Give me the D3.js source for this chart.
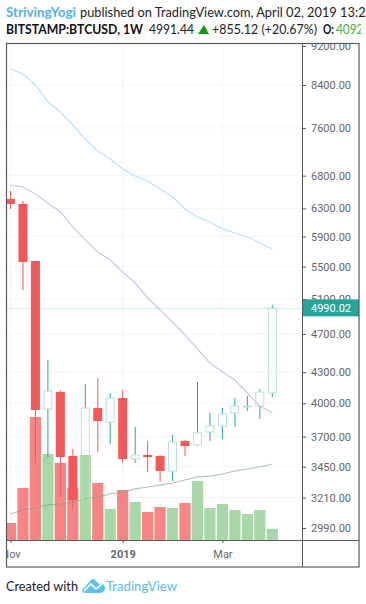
<!DOCTYPE html>
<html>
<head>
<meta charset="utf-8">
<script src="https://cdnjs.cloudflare.com/ajax/libs/d3/7.8.5/d3.min.js"></script>
<style>
  body { margin: 0; background: #fff; }
  svg { display: block; }
</style>
</head>
<body>
<div id="chart"></div>
<script>
// weekly candles, first one is the week of 5 Nov 2018
var firstWeek = "2018-11-05";
var opens  = [6440,6365,5573,3946,4106,3537,3192,3955,3828,4049,3512,3545,3537,3415,3662,3629,3740,3793,3910,3965,3974,4096];
var highs  = [6561,6410,5573,4424,4125,3595,4183,4242,4096,4125,3784,3662,3545,3714,3671,4203,3910,3955,4049,4068,4135,5030];
var lows   = [6292,5208,3479,3528,3214,3126,3184,3570,3637,3479,3479,3407,3329,3336,3537,3620,3662,3680,3784,3928,3855,4058];
var closes = [6365,5560,3937,4115,3528,3192,3955,3837,4049,3512,3545,3528,3415,3654,3620,3732,3793,3900,3974,3974,4106,4990];
var volumes = [17,52,123,86,77,52,85,57,31,50,38,28,33,32,37,59,32,36,30,26,30,11];

var maBlue   = [8720,8619,8401,8074,7888,7653,7407,7203,7070,6907,6795,6716,6592,6470,6292,6175,6104,6005,5949,5894,5812,5731];
var maPurple = [6653,6622,6515,6380,6248,6033,5853,5691,5586,5432,5294,5112,4971,4834,4690,4539,4393,4302,4222,4096,3974,3910];
var maGreen  = [3089,3118,3133,3155,3162,3177,3199,3214,3237,3252,3275,3290,3305,3321,3344,3368,3375,3391,3415,3431,3447,3471];

var priceTicks = [2990,3210,3450,3700,4000,4300,4700,5100,5500,5900,6300,6800,7600,8400,9200];
var timeTicks = ["2018-11-05","2019-01-07","2019-03-04"];
var timeLabels = ["Nov","2019","Mar"];
var lastPrice = 4990.02;

var upColor = "#26a69a", upBorder = "#b7e0dc", downColor = "#f25858";
var volUp = "#a8d8a8", volDown = "#f78585";

var parse = d3.utcParse("%Y-%m-%d");
var weeks = opens.map(function(d, i) { return d3.utcWeek.offset(parse(firstWeek), i); });

var svg = d3.select("#chart").append("svg").attr("width", 366).attr("height", 604);
svg.append("rect").attr("width", 366).attr("height", 604).attr("fill", "#fff");

var x = d3.scaleUtc().domain([weeks[0], weeks[weeks.length - 1]]).range([10.5, 272.3]);
var y = d3.scaleLog().domain([2990, 9200]).range([528, 46]);
var vol = d3.scaleLinear().domain([0, 123]).range([540, 417]);

var defs = svg.append("defs");
defs.append("clipPath").attr("id", "pane").append("rect").attr("x", 7).attr("y", 44).attr("width", 295).attr("height", 496);
defs.append("clipPath").attr("id", "priceAxis").append("rect").attr("x", 302).attr("y", 44).attr("width", 57).attr("height", 496);
defs.append("clipPath").attr("id", "timeAxis").append("rect").attr("x", 7).attr("y", 540).attr("width", 295).attr("height", 27);
defs.append("clipPath").attr("id", "page").append("rect").attr("x", 0).attr("y", 0).attr("width", 361).attr("height", 40);

var pane = svg.append("g").attr("clip-path", "url(#pane)");

// grid
pane.selectAll(".gy").data(priceTicks).enter().append("line")
  .attr("x1", 7).attr("x2", 302)
  .attr("y1", function(d) { return y(d); }).attr("y2", function(d) { return y(d); })
  .attr("stroke", "#f3f5f6");
pane.selectAll(".gx").data(timeTicks).enter().append("line")
  .attr("y1", 44).attr("y2", 540)
  .attr("x1", function(d) { return x(parse(d)); }).attr("x2", function(d) { return x(parse(d)); })
  .attr("stroke", "#f3f5f6");

// volume
pane.selectAll(".vol").data(volumes).enter().append("rect")
  .attr("x", function(d, i) { return x(weeks[i]) - 5.6; })
  .attr("width", 11.2)
  .attr("y", function(d) { return vol(d); })
  .attr("height", function(d) { return vol(0) - vol(d); })
  .attr("fill", function(d, i) { return closes[i] >= opens[i] ? volUp : volDown; });

// moving averages
var maLine = d3.line()
  .x(function(d, i) { return x(weeks[i]); })
  .y(function(d) { return y(d); });
pane.append("path").datum(maBlue).attr("fill", "none").attr("stroke", "#bbdefb").attr("stroke-width", 1.2).attr("d", maLine);
pane.append("path").datum(maPurple).attr("fill", "none").attr("stroke", "#cfc3ea").attr("stroke-width", 1.2).attr("d", maLine);
pane.append("path").datum(maGreen).attr("fill", "none").attr("stroke", "#7f9f86").attr("stroke-opacity", 0.6).attr("stroke-width", 1.2).attr("d", maLine);

// last price line
pane.append("line").attr("x1", 7).attr("x2", 302)
  .attr("y1", y(lastPrice)).attr("y2", y(lastPrice))
  .attr("stroke", upColor).attr("stroke-opacity", 0.22);

// candles
var candle = pane.selectAll(".candle").data(opens).enter().append("g");
candle.append("line")
  .attr("x1", function(d, i) { return x(weeks[i]); }).attr("x2", function(d, i) { return x(weeks[i]); })
  .attr("y1", function(d, i) { return y(highs[i]); })
  .attr("y2", function(d, i) { return y(Math.max(opens[i], closes[i])); })
  .attr("stroke", function(d, i) { return closes[i] >= opens[i] ? upColor : downColor; })
  .attr("stroke-width", 1);
candle.append("line")
  .attr("x1", function(d, i) { return x(weeks[i]); }).attr("x2", function(d, i) { return x(weeks[i]); })
  .attr("y1", function(d, i) { return y(Math.min(opens[i], closes[i])); })
  .attr("y2", function(d, i) { return y(lows[i]); })
  .attr("stroke", function(d, i) { return closes[i] >= opens[i] ? upColor : downColor; })
  .attr("stroke-width", 1);
candle.append("rect")
  .attr("x", function(d, i) { return x(weeks[i]) - (closes[i] >= opens[i] ? 4 : 4.5); })
  .attr("width", function(d, i) { return closes[i] >= opens[i] ? 8 : 9; })
  .attr("y", function(d, i) { return y(Math.max(opens[i], closes[i])); })
  .attr("height", function(d, i) { return Math.abs(y(opens[i]) - y(closes[i])); })
  .attr("fill", function(d, i) { return closes[i] >= opens[i] ? "none" : downColor; })
  .attr("stroke", function(d, i) { return closes[i] >= opens[i] ? upBorder : "none"; });

// price axis
var priceAxis = svg.append("g").attr("clip-path", "url(#priceAxis)").append("g")
  .attr("transform", "translate(302,0)")
  .call(d3.axisRight(y).tickValues(priceTicks).tickSize(4).tickPadding(5)
    .tickFormat(function(d) { return d.toFixed(2); }));
priceAxis.select(".domain").remove();
priceAxis.selectAll("line").attr("stroke", "#555");
priceAxis.selectAll("text").attr("fill", "#666").style("font", "11px Roboto");

// last price label
svg.append("rect").attr("x", 302).attr("y", y(lastPrice) - 9).attr("width", 57).attr("height", 17).attr("fill", upColor);
svg.append("text").attr("x", 311).attr("y", y(lastPrice) + 4)
  .attr("fill", "#fff").style("font", "11px Roboto").text(lastPrice.toFixed(2));

// time axis
var timeAxis = svg.append("g").attr("clip-path", "url(#timeAxis)").append("g")
  .attr("transform", "translate(0,540)")
  .call(d3.axisBottom(x).tickValues(timeTicks.map(parse)).tickSize(3).tickPadding(7)
    .tickFormat(function(d, i) { return timeLabels[i]; }));
timeAxis.select(".domain").remove();
timeAxis.selectAll("line").attr("stroke", "#555");
timeAxis.selectAll("text").attr("fill", "#666").style("font", "11px Roboto")
  .style("font-weight", function(d, i) { return i == 1 ? "bold" : "normal"; });

// frame
var frameColor = "#5a5a5a";
svg.append("rect").attr("x", 6.5).attr("y", 43.5).attr("width", 352.5).attr("height", 523.5)
  .attr("fill", "none").attr("stroke", frameColor).attr("stroke-width", 1.2);
svg.append("line").attr("x1", 302.5).attr("x2", 302.5).attr("y1", 44).attr("y2", 567).attr("stroke", frameColor);
svg.append("line").attr("x1", 7).attr("x2", 359).attr("y1", 540.5).attr("y2", 540.5).attr("stroke", frameColor);

// header, Lato runs wider than the original font so each run gets a fixed length
function label(parent, str, px, py, len, color, bold) {
  return parent.append("text").attr("x", px).attr("y", py)
    .attr("textLength", len).attr("lengthAdjust", "spacingAndGlyphs")
    .style("font", (bold ? "bold 12.8px" : "13px") + " Lato")
    .attr("fill", color).text(str);
}
var head = svg.append("g").attr("clip-path", "url(#page)");
label(head, "StrivingYogi", 6, 17, 70, "#4fb4e6", true);
label(svg, "published on TradingView.com, April 02, 2019 13:21", 80, 17, 293, "#222", false);
label(head, "BITSTAMP:BTCUSD, 1W", 6, 34, 137, "#111", true);
label(head, "4991.44", 149, 34, 45, "#222", false);
head.append("path").attr("d", "M198,34L204,25L209,34Z").attr("fill", "#0a9d0a");
label(head, "+855.12 (+20.67%)", 212, 34, 105, "#222", false);
label(head, "O:", 323, 34, 11, "#111", true);
label(head, "4092.10", 336, 34, 44, "#3fae3f", false);

// footer
label(svg, "Created with", 6, 591, 72, "#222", false);
svg.append("path")
  .attr("d", "M82,590L91,580Q93,578 95,580L99,584Q102,582 104,585Q106,588 104,591Q103,593 100,593L85,593Q82,593 82,590Z")
  .attr("fill", "#5bc3ec");
svg.append("path").attr("d", "M84,591L91,584L96,589L103,583").attr("fill", "none").attr("stroke", "#fff").attr("stroke-width", 1.6);
label(svg, "TradingView", 106, 591, 71, "#5bbde8", false);
</script>
</body>
</html>
